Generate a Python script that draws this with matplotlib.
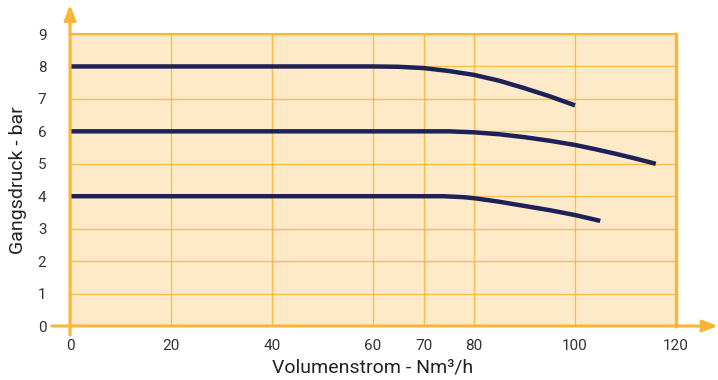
import matplotlib.pyplot as plt

plt.rcParams['font.family'] = ['Liberation Sans Narrow', 'Roboto', 'DejaVu Sans']

ORANGE = '#FBB534'
PEACH = '#FEEAC9'
NAVY = '#1E2157'

# curve data (flow in Nm3/h, pressure in bar)
flow_8 = [0, 60, 65, 70, 75, 80, 85, 90, 95, 100]
press_8 = [8.0, 8.0, 7.99, 7.95, 7.86, 7.74, 7.56, 7.33, 7.08, 6.8]

flow_6 = [0, 70, 75, 80, 85, 90, 95, 100, 104, 108, 112, 116]
press_6 = [6.0, 6.0, 6.0, 5.97, 5.91, 5.82, 5.71, 5.58, 5.45, 5.31, 5.16, 5.0]

flow_4 = [0, 74, 78, 80, 85, 90, 95, 100, 105]
press_4 = [4.0, 4.0, 3.97, 3.94, 3.83, 3.70, 3.57, 3.42, 3.24]

xticks = [0, 20, 40, 60, 70, 80, 100, 120]
yticks = list(range(0, 10))

fig = plt.figure(figsize=(7.18, 3.8), dpi=100)
ax = fig.add_axes([0.0975, 0.1421, 0.844, 0.7684])
ax.set_facecolor(PEACH)

for fx, py in [(flow_8, press_8), (flow_6, press_6), (flow_4, press_4)]:
    ax.plot(fx, py, color=NAVY, lw=3.2, solid_capstyle='butt', solid_joinstyle='round', zorder=3)

ax.set_xlim(0, 120)
ax.set_ylim(0, 9)
ax.set_xticks(xticks)
ax.set_yticks(yticks)
ax.grid(color=ORANGE, lw=1.0, alpha=0.85)
ax.set_axisbelow(True)
ax.tick_params(length=0, labelsize=11, colors='#333333')
ax.tick_params(axis='y', pad=17)
ax.tick_params(axis='x', pad=9)

for side in ['left', 'bottom']:
    ax.spines[side].set_visible(False)
ax.spines['top'].set_color(ORANGE)
ax.spines['top'].set_linewidth(1.5)
ax.spines['right'].set_color(ORANGE)
ax.spines['right'].set_linewidth(2.5)

# axis arrows
ax.annotate('', xy=(0, 1.1), xytext=(0, -0.031), xycoords='axes fraction',
            arrowprops=dict(arrowstyle='-|>,head_length=0.9,head_width=0.35',
                            color=ORANGE, lw=2.2, shrinkA=0, shrinkB=0))
ax.annotate('', xy=(1.069, 0), xytext=(-0.03, 0), xycoords='axes fraction',
            arrowprops=dict(arrowstyle='-|>,head_length=0.9,head_width=0.35',
                            color=ORANGE, lw=2.2, shrinkA=0, shrinkB=0))

ax.set_xlabel('Volumenstrom - Nm³/h', fontsize=14, color='#222222', labelpad=4)
ax.set_ylabel('Gangsdruck - bar', fontsize=14, color='#222222', labelpad=8)

fig.savefig('out.png', dpi=100)
